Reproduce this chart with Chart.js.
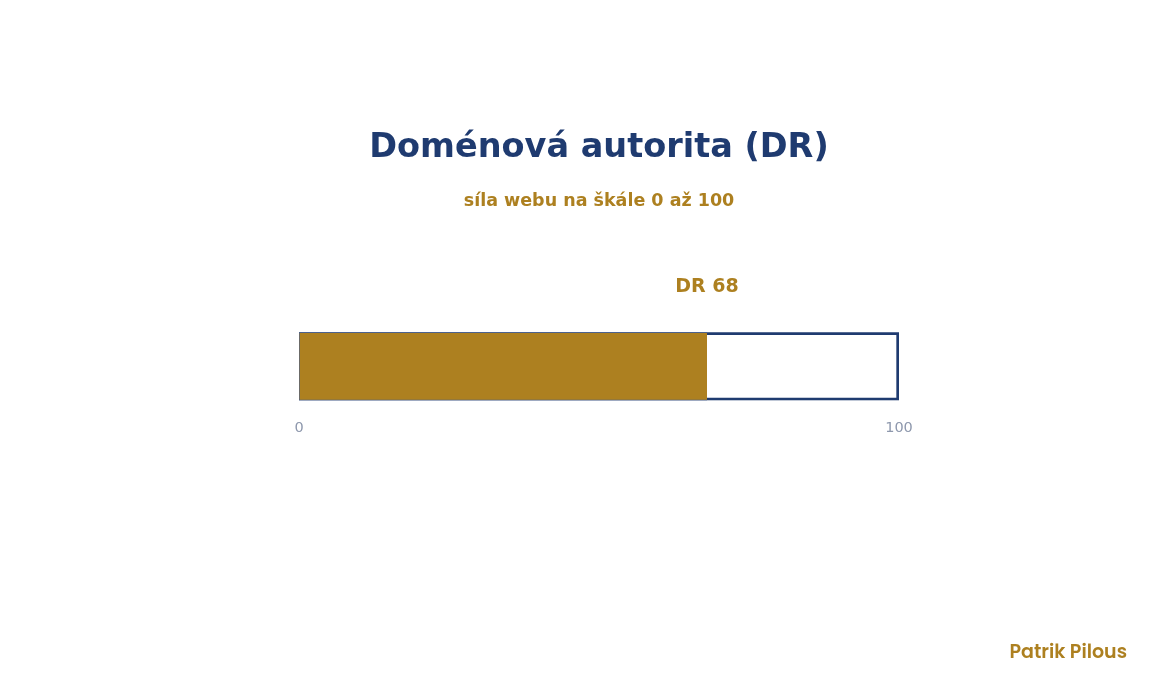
<!DOCTYPE html>
<html lang="cs">
<head>
<meta charset="utf-8">
<title>Doménová autorita (DR)</title>
<script src="https://cdn.jsdelivr.net/npm/chart.js@4/dist/chart.umd.min.js"></script>
<style>
  html, body { margin: 0; padding: 0; background: #fff; }
  #wrap { position: relative; width: 1170px; height: 700px; }
  #footer {
    position: absolute; right: 43px; top: 641px;
    font-family: Poppins, Inter, "DejaVu Sans", sans-serif;
    font-weight: 600; font-size: 19px; line-height: 22px;
    color: #ad8020;
  }
</style>
</head>
<body>
<div id="wrap">
  <canvas id="main-chart" width="1170" height="700"></canvas>
  <div id="footer">Patrik Pilous</div>
</div>
<script>
const categories = ['DR'];
const drValue    = [68];
const scaleMax   = [100];
const tickLabels = [0, 100];

const NAVY = '#1f3b70';
const GOLD = '#ad8020';
const GREY = '#8e98ad';

// draws "DR 68" above the end of the filled bar
const valueLabel = {
  id: 'valueLabel',
  afterDatasetsDraw(chart) {
    const bar = chart.getDatasetMeta(0).data[0];
    if (!bar) return;
    const { ctx } = chart;
    ctx.save();
    ctx.font = 'bold 19px "DejaVu Sans", sans-serif';
    ctx.fillStyle = GOLD;
    ctx.textAlign = 'center';
    ctx.textBaseline = 'middle';
    ctx.fillText('DR ' + drValue[0], bar.x, bar.y - bar.height / 2 - 45);
    ctx.restore();
  }
};

const ctx = document.getElementById('main-chart').getContext('2d');

new Chart(ctx, {
  type: 'bar',
  data: {
    labels: categories,
    datasets: [
      {
        data: drValue,
        backgroundColor: GOLD,
        borderColor: '#4a5f8c',
        borderWidth: { top: 1, bottom: 1, left: 1, right: 0 },
        borderSkipped: false,
        grouped: false,
        barThickness: 68,
        order: 0,
      },
      {
        data: scaleMax,
        backgroundColor: '#ffffff',
        borderColor: NAVY,
        borderWidth: 3,
        borderSkipped: false,
        grouped: false,
        barThickness: 68,
        order: 1,
      },
    ]
  },
  options: {
    indexAxis: 'y',
    responsive: false,
    animation: false,
    layout: { padding: { left: 299, right: 271, top: 0, bottom: 245 } },
    plugins: {
      legend: { display: false },
      tooltip: { enabled: false },
      title: {
        display: true,
        text: 'Doménová autorita (DR)',
        color: NAVY,
        font: { family: '"DejaVu Sans", sans-serif', size: 33.5, weight: 'bold' },
        padding: { top: 128.5, bottom: 14 },
      },
      subtitle: {
        display: true,
        text: 'síla webu na škále 0 až 100',
        color: GOLD,
        font: { family: '"DejaVu Sans", sans-serif', size: 17.5, weight: 'bold' },
        padding: { top: 7.8, bottom: 120.75 },
      },
    },
    scales: {
      x: {
        min: tickLabels[0],
        max: tickLabels[tickLabels.length - 1],
        afterBuildTicks: axis => { axis.ticks = tickLabels.map(v => ({ value: v })); },
        ticks: {
          color: GREY,
          font: { family: '"DejaVu Sans", sans-serif', size: 14.5 },
          padding: 18.5,
          maxRotation: 0,
        },
        grid:   { display: false, drawTicks: false },
        border: { display: false },
      },
      y: { display: false },
    },
  },
  plugins: [valueLabel],
});
</script>
</body>
</html>
